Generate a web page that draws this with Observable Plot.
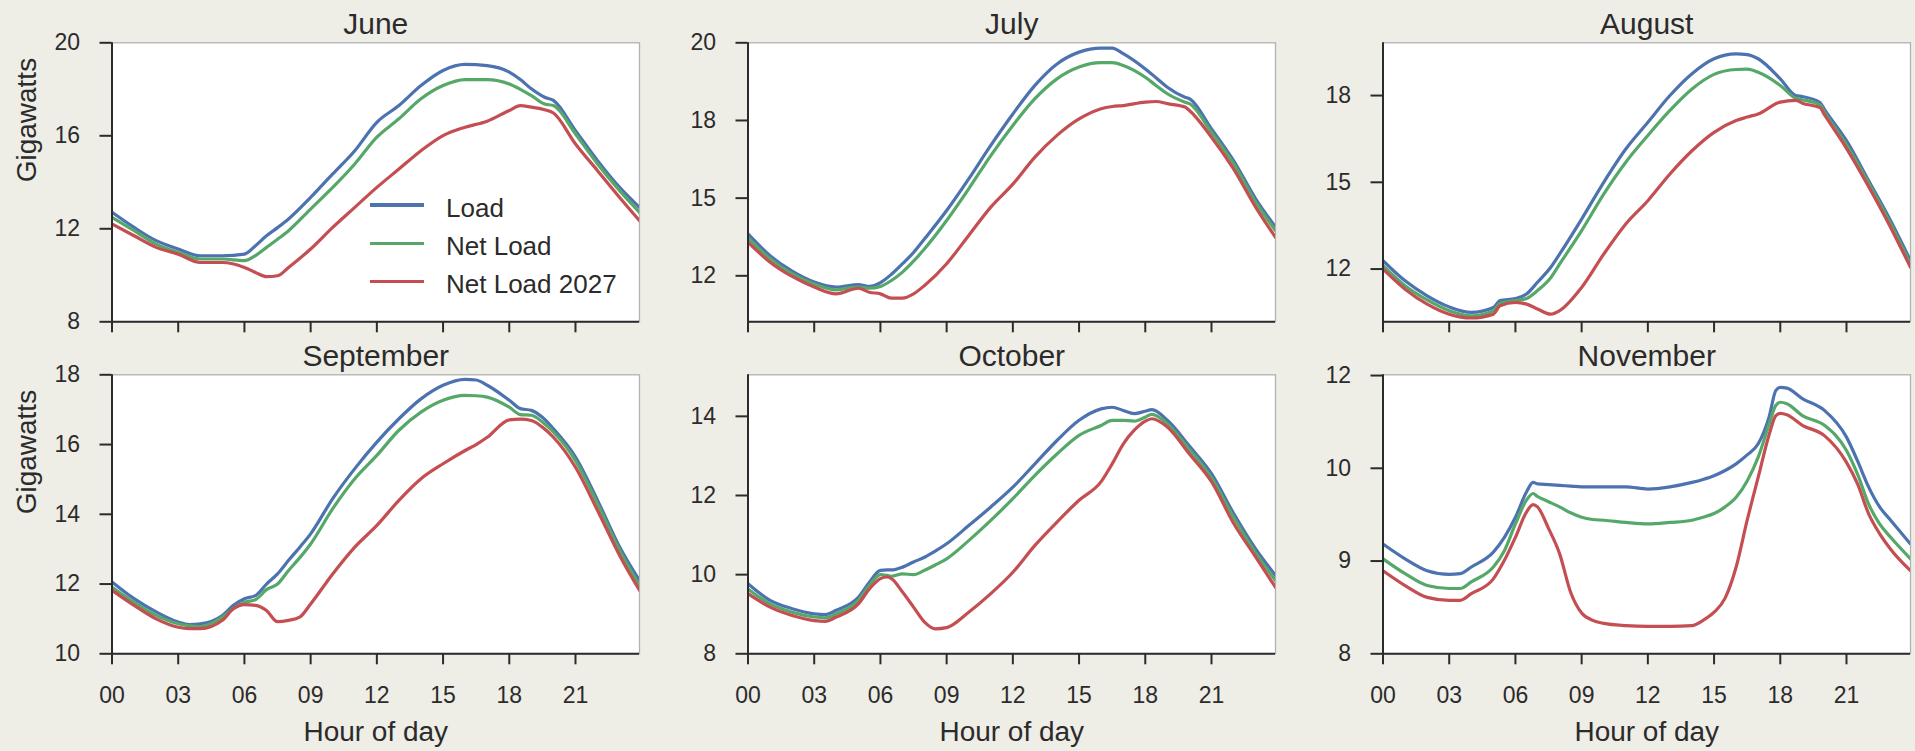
<!DOCTYPE html>
<html>
<head>
<meta charset="utf-8">
<script src="https://cdn.jsdelivr.net/npm/d3@7"></script>
<script src="https://cdn.jsdelivr.net/npm/@observablehq/plot@0.6"></script>
<style>
  html, body { margin: 0; padding: 0; background: #eeede6; }
  #chart { position: relative; width: 1915px; height: 751px; background: #eeede6; overflow: hidden;
           font-family: "Liberation Sans", Arial, sans-serif; color: #2b2b2b; }
  #chart svg { position: absolute; }
  .lg-swatch { position: absolute; height: 3.5px; }
  .lg-label { position: absolute; font-size: 26px; line-height: 30px; white-space: nowrap; color: #2b2b2b; }
</style>
</head>
<body>
<div id="chart"></div>
<script>
// ---------------- data ----------------
const months = ["June", "July", "August", "September", "October", "November"];
const seriesNames = ["Load", "Net Load", "Net Load 2027"];
const seriesColors = ["#4c72b0", "#55a868", "#c44e52"];

const xDomain = [0, 23.9];
const xTicks = [0, 3, 6, 9, 12, 15, 18, 21];
const xTickLabels = ["00", "03", "06", "09", "12", "15", "18", "21"];
const yAxisLabel = "Gigawatts";
const xAxisLabel = "Hour of day";

// June
const juneHours = [0,1,2,3,4,5,6,6.5,7,7.5,8,9,10,11,12,13,14,15,16,17,18,18.5,19,19.6,20,21,22,23,23.9];
const juneLoad = [12.71,12.06,11.49,11.13,10.84,10.84,10.91,11.27,11.70,12.05,12.42,13.35,14.36,15.36,16.58,17.30,18.16,18.81,19.07,19.02,18.74,18.42,18.02,17.66,17.52,16.22,14.93,13.78,12.92];
const juneNetLoad = [12.49,11.92,11.34,10.99,10.70,10.70,10.63,10.85,11.20,11.55,11.92,12.85,13.78,14.79,15.94,16.73,17.59,18.16,18.42,18.42,18.23,18.00,17.73,17.37,17.30,16.08,14.79,13.64,12.71];
const juneNetLoad2027 = [12.21,11.70,11.20,10.91,10.55,10.55,10.34,10.12,9.94,9.98,10.34,11.13,12.06,12.92,13.78,14.57,15.36,16.01,16.37,16.63,17.09,17.30,17.23,17.12,16.98,15.65,14.50,13.35,12.35];
const juneYDomain = [8, 20];
const juneYTicks = [8, 12, 16, 20];
const juneYTickLabels = ["8", "12", "16", "20"];

// July
const julyHours = [0,1,2,3,4,5,5.5,6,6.5,7,7.5,8,9,10,11,12,13,14,15,16,16.5,17,18,18.5,19,19.8,20,21,22,23,23.9];
const julyLoad = [13.85,13.15,12.65,12.30,12.14,12.22,12.16,12.28,12.55,12.89,13.25,13.69,14.60,15.62,16.70,17.71,18.63,19.32,19.70,19.83,19.83,19.65,19.16,18.87,18.57,18.25,18.20,17.23,16.21,14.98,14.07];
const julyNetLoad = [13.72,13.05,12.56,12.24,12.05,12.14,12.10,12.16,12.35,12.62,12.97,13.37,14.28,15.30,16.37,17.34,18.20,18.84,19.22,19.36,19.36,19.27,18.89,18.62,18.36,18.09,18.04,17.12,16.11,14.87,13.96];
const julyNetLoad2027 = [13.58,12.94,12.48,12.14,11.92,12.10,11.97,11.92,11.78,11.78,11.92,12.19,12.89,13.80,14.71,15.45,16.32,17.02,17.55,17.88,17.95,17.98,18.09,18.11,18.04,17.93,17.82,16.96,15.94,14.71,13.74];
const julyYDomain = [11.02, 20];
const julyYTicks = [12.5, 15, 17.5, 20];
const julyYTickLabels = ["12", "15", "18", "20"];

// August
const augHours = [0,1,2,3,4,5,5.3,6,6.5,7,7.6,8,9,10,11,12,13,14,15,16,16.5,17,18,18.7,19,19.8,20,21,22,23,23.9];
const augLoad = [12.74,12.16,11.73,11.41,11.25,11.39,11.59,11.65,11.78,12.12,12.55,12.93,13.94,15.00,15.96,16.73,17.50,18.13,18.56,18.70,18.68,18.56,17.98,17.50,17.47,17.30,17.10,16.20,15.05,13.89,12.74];
const augNetLoad = [12.60,12.02,11.61,11.30,11.15,11.30,11.51,11.59,11.65,11.88,12.25,12.64,13.61,14.66,15.58,16.35,17.07,17.69,18.11,18.25,18.26,18.17,17.79,17.42,17.38,17.23,17.02,16.08,14.98,13.80,12.64];
const augNetLoad2027 = [12.50,11.92,11.49,11.20,11.09,11.20,11.44,11.54,11.49,11.35,11.20,11.30,11.97,12.93,13.80,14.47,15.24,15.91,16.44,16.78,16.88,16.97,17.31,17.36,17.28,17.15,16.95,15.98,14.88,13.70,12.55];
const augYDomain = [10.98, 19.02];
const augYTicks = [12.5, 15, 17.5];
const augYTickLabels = ["12", "15", "18"];

// September
const sepHours = [0,1,2,3,3.5,4,5,5.5,6,6.5,7,7.5,8,8.5,9,10,11,12,13,14,15,16,16.5,17,18,18.5,19,19.5,20,21,22,23,23.9];
const sepLoad = [12.06,11.58,11.20,10.91,10.84,10.86,11.10,11.39,11.58,11.67,12.00,12.29,12.68,13.05,13.44,14.45,15.31,16.07,16.74,17.31,17.70,17.87,17.85,17.70,17.27,17.03,16.98,16.78,16.45,15.64,14.40,13.06,12.10];
const sepNetLoad = [11.91,11.48,11.10,10.86,10.80,10.78,11.05,11.30,11.48,11.55,11.84,12.00,12.39,12.75,13.15,14.16,15.02,15.69,16.41,16.93,17.27,17.41,17.40,17.36,17.07,16.86,16.84,16.65,16.36,15.54,14.30,12.96,11.96];
const sepNetLoad2027 = [11.82,11.39,11.00,10.76,10.72,10.72,10.96,11.29,11.41,11.39,11.24,10.92,10.96,11.05,11.43,12.29,13.06,13.68,14.40,15.02,15.45,15.83,16.00,16.21,16.71,16.73,16.69,16.50,16.21,15.35,14.11,12.82,11.82];
const sepYDomain = [10, 18];
const sepYTicks = [10, 12, 14, 16, 18];
const sepYTickLabels = ["10", "12", "14", "16", "18"];

// October
const octHours = [0,1,2,3,3.5,4,5,5.5,6,6.3,6.5,7,7.5,8,8.5,9,10,11,12,13,14,15,16,16.5,17,17.5,18,18.3,19,20,21,22,23,23.9];
const octLoad = [9.77,9.35,9.14,9.01,8.99,9.10,9.43,9.81,10.11,10.12,10.12,10.19,10.32,10.44,10.60,10.78,11.24,11.71,12.21,12.80,13.39,13.90,14.19,14.23,14.15,14.07,14.13,14.17,13.90,13.25,12.55,11.55,10.65,9.98];
const octNetLoad = [9.64,9.26,9.05,8.93,8.91,9.01,9.35,9.73,10.00,9.98,9.96,10.02,10.00,10.11,10.25,10.40,10.86,11.37,11.92,12.51,13.05,13.52,13.77,13.90,13.90,13.88,13.98,14.05,13.81,13.16,12.45,11.45,10.55,9.85];
const octNetLoad2027 = [9.52,9.18,8.97,8.84,8.82,8.93,9.26,9.64,9.90,9.94,9.90,9.56,9.18,8.80,8.63,8.66,9.05,9.52,10.06,10.74,11.33,11.88,12.35,12.80,13.30,13.65,13.88,13.94,13.73,13.05,12.35,11.30,10.45,9.68];
const octYDomain = [8, 15.05];
const octYTicks = [8, 10, 12, 14];
const octYTickLabels = ["8", "10", "12", "14"];

// November
const novHours = [0,1,2,3,3.5,4,5,5.5,6,6.5,6.8,7,7.5,8,8.5,9,9.5,10,11,12,13,14,14.5,15,15.5,16,16.5,17,17.5,17.8,18,18.3,19,20,21,21.5,22,22.5,23,23.9];
const novLoad = [9.48,9.28,9.12,9.07,9.08,9.17,9.37,9.57,9.84,10.18,10.31,10.29,10.28,10.27,10.26,10.25,10.25,10.25,10.25,10.22,10.25,10.31,10.35,10.40,10.47,10.56,10.68,10.83,11.20,11.55,11.59,11.58,11.44,11.28,10.92,10.60,10.25,9.98,9.80,9.48];
const novNetLoad = [9.28,9.08,8.92,8.88,8.88,8.97,9.17,9.39,9.75,10.07,10.16,10.12,10.05,9.98,9.90,9.84,9.81,9.80,9.77,9.75,9.77,9.80,9.84,9.89,9.98,10.11,10.33,10.65,11.10,11.35,11.39,11.37,11.21,11.08,10.74,10.42,10.02,9.75,9.57,9.28];
const novNetLoad2027 = [9.12,8.92,8.76,8.72,8.72,8.81,9.01,9.26,9.57,9.91,10.01,9.98,9.69,9.35,8.83,8.55,8.45,8.41,8.38,8.37,8.37,8.38,8.45,8.56,8.75,9.17,9.80,10.38,10.96,11.21,11.24,11.22,11.08,10.94,10.58,10.29,9.89,9.62,9.41,9.12];
const novYDomain = [8, 11.76];
const novYTicks = [8, 9.25, 10.5, 11.75];
const novYTickLabels = ["8", "9", "10", "12"];

// ---------------- layout ----------------
const colLeft = [111.5, 747.3, 1382.3];
const rowTop = [42.3, 374.3];
const frameW = 527.5, frameH = 279;
const svgTopRow = [0, 332];
const marginBottomRow = [19, 96];

const panels = [
  {title: months[0], hours: juneHours, values: [juneLoad, juneNetLoad, juneNetLoad2027], yDomain: juneYDomain, yTicks: juneYTicks, yTickLabels: juneYTickLabels, col: 0, row: 0},
  {title: months[1], hours: julyHours, values: [julyLoad, julyNetLoad, julyNetLoad2027], yDomain: julyYDomain, yTicks: julyYTicks, yTickLabels: julyYTickLabels, col: 1, row: 0},
  {title: months[2], hours: augHours, values: [augLoad, augNetLoad, augNetLoad2027], yDomain: augYDomain, yTicks: augYTicks, yTickLabels: augYTickLabels, col: 2, row: 0},
  {title: months[3], hours: sepHours, values: [sepLoad, sepNetLoad, sepNetLoad2027], yDomain: sepYDomain, yTicks: sepYTicks, yTickLabels: sepYTickLabels, col: 0, row: 1},
  {title: months[4], hours: octHours, values: [octLoad, octNetLoad, octNetLoad2027], yDomain: octYDomain, yTicks: octYTicks, yTickLabels: octYTickLabels, col: 1, row: 1},
  {title: months[5], hours: novHours, values: [novLoad, novNetLoad, novNetLoad2027], yDomain: novYDomain, yTicks: novYTicks, yTickLabels: novYTickLabels, col: 2, row: 1}
];

const chart = document.getElementById("chart");
const ML = 111.5, MR = 2;
const ink = "#2b2b2b";
const xLabelMap = new Map(xTicks.map((t, i) => [t, xTickLabels[i]]));

for (const p of panels) {
  const rows = [];
  p.values.forEach((vals, si) => {
    vals.forEach((v, i) => rows.push({hour: p.hours[i], value: v, series: seriesNames[si]}));
  });
  const yLabelMap = new Map(p.yTicks.map((t, i) => [t, p.yTickLabels[i]]));
  const svgTop = svgTopRow[p.row];
  const marginTop = rowTop[p.row] - svgTop;
  const marginBottom = marginBottomRow[p.row];
  const height = marginTop + frameH + marginBottom;

  const marks = [
    Plot.frame({fill: "white", stroke: "#b2b2b2", strokeWidth: 1.3}),
    Plot.line(rows, {x: "hour", y: "value", z: "series", stroke: "series", strokeWidth: 3.2,
                     curve: "monotone-x", strokeLinejoin: "round", clip: true}),
    Plot.ruleX([xDomain[0]], {stroke: ink, strokeWidth: 2}),
    Plot.ruleY([p.yDomain[0]], {stroke: ink, strokeWidth: 2}),
    Plot.axisY({ticks: p.yTicks, tickFormat: d => yLabelMap.get(d), tickSize: 12, tickPadding: 20,
                fontSize: 23, strokeWidth: 2, label: null}),
    Plot.axisX({ticks: xTicks, tickFormat: p.row === 1 ? (d => xLabelMap.get(d)) : (() => ""),
                tickSize: 11, tickPadding: 22, fontSize: 23, strokeWidth: 2, label: null}),
    Plot.text([p.title], {frameAnchor: "top", dy: -18, fontSize: 30, lineAnchor: "middle", fill: ink})
  ];
  if (p.col === 0) {
    marks.push(Plot.text([yAxisLabel], {frameAnchor: "left", dx: -85, rotate: -90, fontSize: 28,
                                        lineAnchor: "middle", fill: ink}));
  }
  if (p.row === 1) {
    marks.push(Plot.text([xAxisLabel], {frameAnchor: "bottom", dy: 78, fontSize: 28,
                                        lineAnchor: "middle", fill: ink}));
  }

  const svg = Plot.plot({
    width: ML + frameW + MR,
    height,
    marginLeft: ML, marginRight: MR, marginTop, marginBottom,
    x: {domain: xDomain},
    y: {domain: p.yDomain},
    color: {domain: seriesNames, range: seriesColors},
    style: {background: "transparent", color: ink, fontFamily: "'Liberation Sans', Arial, sans-serif", overflow: "visible"},
    marks
  });
  svg.style.left = (colLeft[p.col] - ML) + "px";
  svg.style.top = svgTop + "px";
  chart.appendChild(svg);
}

// legend inside the June panel
const legendRowsY = [205, 243.3, 281.7];
seriesNames.forEach((name, i) => {
  const sw = document.createElement("div");
  sw.className = "lg-swatch";
  sw.style.left = "370.4px";
  sw.style.width = "54px";
  sw.style.top = (legendRowsY[i] - 1.75) + "px";
  sw.style.background = seriesColors[i];
  chart.appendChild(sw);
  const lb = document.createElement("div");
  lb.className = "lg-label";
  lb.textContent = name;
  lb.style.left = "446px";
  lb.style.top = (legendRowsY[i] + 2.5 - 15) + "px";
  chart.appendChild(lb);
});
</script>
</body>
</html>
